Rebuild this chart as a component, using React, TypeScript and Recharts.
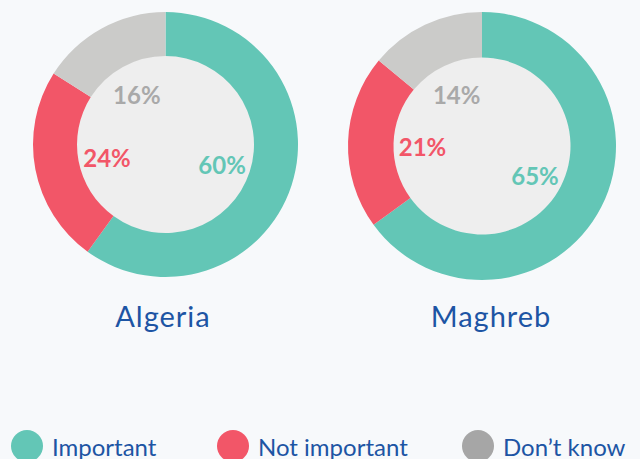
import React from "react";
import { PieChart, Pie, Cell, Legend } from "recharts";

const categories = ["Important", "Not important", "Don\u2019t know"];
const algeriaValues = [60, 24, 16];
const maghrebValues = [65, 21, 14];
const regionTitles = ["Algeria", "Maghreb"];

const sliceColors = ["#63c6b6", "#f25668", "#cbcbc9"];
const labelColors = ["#63c6b6", "#f25668", "#a9a9a9"];
const legendColors = ["#63c6b6", "#f25668", "#a6a6a6"];
const titleColor = "#1d55a4";
const FONT = "Lato, 'Open Sans', sans-serif";

const algeriaData = categories.map((name, i) => ({ name, value: algeriaValues[i], idx: i }));
const maghrebData = categories.map((name, i) => ({ name, value: maghrebValues[i], idx: i }));
const fill = [{ name: "inner", value: 1 }];

const RAD = Math.PI / 180;

const renderLabel = (props: any) => {
  const { cx, cy, midAngle, innerRadius, value, index } = props;
  const r = innerRadius - 29;
  const x = cx + r * Math.cos(-midAngle * RAD);
  const y = cy + r * Math.sin(-midAngle * RAD) + 2;
  return (
    <text
      x={x}
      y={y}
      textAnchor="middle"
      dominantBaseline="central"
      fill={labelColors[index]}
      fontSize={24}
      fontWeight={700}
      fontFamily={FONT}
    >
      {`${value}%`}
    </text>
  );
};

const LegendContent = () => (
  <div style={{ position: "relative", width: 640, height: 40 }}>
    {categories.map((c, i) => {
      const lefts = [11, 217, 462];
      return (
        <div
          key={c}
          style={{
            position: "absolute",
            left: lefts[i],
            top: 0,
            display: "flex",
            alignItems: "center",
            fontFamily: FONT,
            fontSize: 24,
            color: titleColor,
            whiteSpace: "nowrap",
          }}
        >
          <span
            style={{
              display: "inline-block",
              width: 32,
              height: 32,
              borderRadius: 16,
              background: legendColors[i],
              marginRight: 9,
            }}
          />
          <span>{c}</span>
        </div>
      );
    })}
  </div>
);

export default function App() {
  return (
    <div
      style={{
        position: "fixed",
        left: 0,
        top: 0,
        width: 640,
        height: 459,
        background: "#f7f9fb",
        overflow: "hidden",
      }}
    >
      <PieChart width={640} height={459} margin={{ top: 0, right: 0, bottom: 0, left: 0 }}>
        <Pie
          data={fill}
          dataKey="value"
          cx={165.5}
          cy={144.5}
          innerRadius={0}
          outerRadius={89}
          fill="#eeeeee"
          stroke="none"
          isAnimationActive={false}
          legendType="none"
        />
        <Pie
          data={fill}
          dataKey="value"
          cx={482}
          cy={146}
          innerRadius={0}
          outerRadius={89}
          fill="#eeeeee"
          stroke="none"
          isAnimationActive={false}
          legendType="none"
        />
        <Pie
          data={algeriaData}
          dataKey="value"
          cx={165.5}
          cy={144.5}
          innerRadius={88.5}
          outerRadius={132.5}
          startAngle={90}
          endAngle={-270}
          stroke="none"
          label={renderLabel}
          labelLine={false}
          isAnimationActive={false}
        >
          {algeriaData.map((d) => (
            <Cell key={d.name} fill={sliceColors[d.idx]} />
          ))}
        </Pie>
        <Pie
          data={maghrebData}
          dataKey="value"
          cx={482}
          cy={146}
          innerRadius={88.5}
          outerRadius={134}
          startAngle={90}
          endAngle={-270}
          stroke="none"
          label={renderLabel}
          labelLine={false}
          isAnimationActive={false}
        >
          {maghrebData.map((d) => (
            <Cell key={d.name} fill={sliceColors[d.idx]} />
          ))}
        </Pie>
        <Legend
          content={<LegendContent />}
          wrapperStyle={{ position: "absolute", left: 0, top: 430, width: 640 }}
        />
      </PieChart>
      {regionTitles.map((t, i) => (
        <div
          key={t}
          style={{
            position: "absolute",
            left: i === 0 ? 63 : 391,
            width: 200,
            top: 298,
            textAlign: "center",
            fontFamily: FONT,
            fontSize: 29,
            letterSpacing: 1,
            color: titleColor,
          }}
        >
          {t}
        </div>
      ))}
    </div>
  );
}
